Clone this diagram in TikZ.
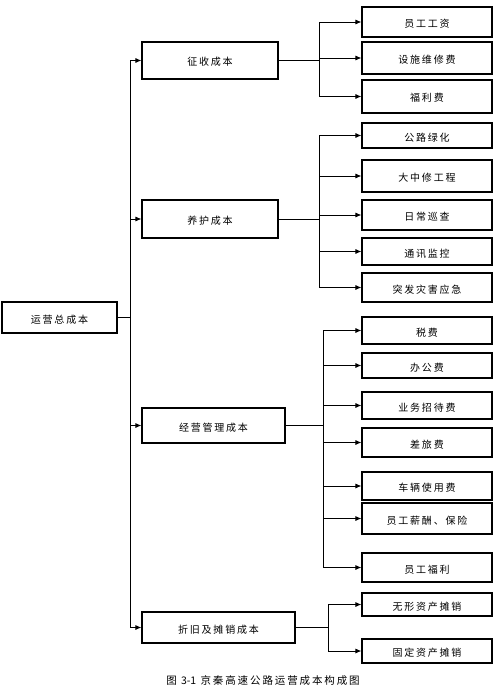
\documentclass[tikz,border=0pt]{standalone}
\usepackage{fontspec}
\setmainfont{Noto Sans CJK SC}[LetterSpace=18]
\newfontfamily\plainfont{Noto Sans CJK SC}
\usetikzlibrary{arrows.meta}
\tikzset{
  box/.style={draw, line width=1.1pt, inner sep=0pt, text height=11pt, text depth=0pt, font=\fontsize{10}{12}\selectfont},
  conn/.style={line width=0.9pt},
  arr/.style={conn, -{Latex[length=6pt,width=5pt]}}
}
\newcommand{\bx}[6]{\node[box, minimum width={#4-#2}, minimum height={#5-#3}] (#1) at ({(#2+#4)/2},{(#3+#5)/2}) {#6};}
\begin{document}
\begin{tikzpicture}[x=1pt,y=-1pt]
\useasboundingbox (0,0) rectangle (503,698);
% root
\bx{root}{2}{302}{117}{333}{运营总成本}
% level 1
\bx{zs}{142}{42}{278}{79}{征收成本}
\bx{yh}{142}{200}{278}{238}{养护成本}
\bx{jy}{142}{408}{285}{443}{经营管理成本}
\bx{zj}{142}{612}{295}{643}{折旧及摊销成本}
% children of zs
\bx{a1}{362}{7}{492}{37}{员工工资}
\bx{a2}{362}{42}{492}{74}{设施维修费}
\bx{a3}{362}{80}{492}{113}{福利费}
% children of yh
\bx{b1}{362}{123}{492}{148}{公路绿化}
\bx{b2}{362}{160}{492}{192}{大中修工程}
\bx{b3}{362}{200}{492}{230}{日常巡查}
\bx{b4}{362}{238}{492}{265}{通讯监控}
\bx{b5}{362}{273}{492}{302}{突发灾害应急}
% children of jy
\bx{c1}{362}{317}{492}{344}{税费}
\bx{c2}{362}{353}{492}{378}{办公费}
\bx{c3}{362}{392}{492}{419}{业务招待费}
\bx{c4}{362}{428}{492}{457}{差旅费}
\bx{c5}{362}{472}{492}{500}{车辆使用费}
\bx{c6}{362}{503}{492}{534}{员工薪酬、保险}
\bx{c7}{362}{553}{492}{582}{员工福利}
% children of zj
\bx{d1}{362}{593}{492}{616}{无形资产摊销}
\bx{d2}{362}{639}{492}{663}{固定资产摊销}
% branch coordinates
\coordinate (t0) at (130,0);
\coordinate (t1) at (319,0);
\coordinate (t2) at (319,0);
\coordinate (t3) at (323,0);
\coordinate (t4) at (328,0);
% trunk
\draw[conn] (root.east) -- (root.east -| t0);
\foreach \n in {zs,yh,jy,zj} \draw[arr] (root.east -| t0) |- (\n.west);
% branches
\draw[conn] (zs.east) -- (zs.east -| t1);
\foreach \n in {a1,a2,a3} \draw[arr] (zs.east -| t1) |- (\n.west);
\draw[conn] (yh.east) -- (yh.east -| t2);
\foreach \n in {b1,b2,b3,b4,b5} \draw[arr] (yh.east -| t2) |- (\n.west);
\draw[conn] (jy.east) -- (jy.east -| t3);
\foreach \n in {c1,c2,c3,c4,c5,c6,c7} \draw[arr] (jy.east -| t3) |- (\n.west);
\draw[conn] (zj.east) -- (zj.east -| t4);
\foreach \n in {d1,d2} \draw[arr] (zj.east -| t4) |- (\n.west);
% caption
\node[font=\fontsize{10.5}{12}\selectfont, inner sep=0pt] (cap) at (263,680) {图 {\plainfont 3-1} 京秦高速公路运营成本构成图};
\end{tikzpicture}
\end{document}
